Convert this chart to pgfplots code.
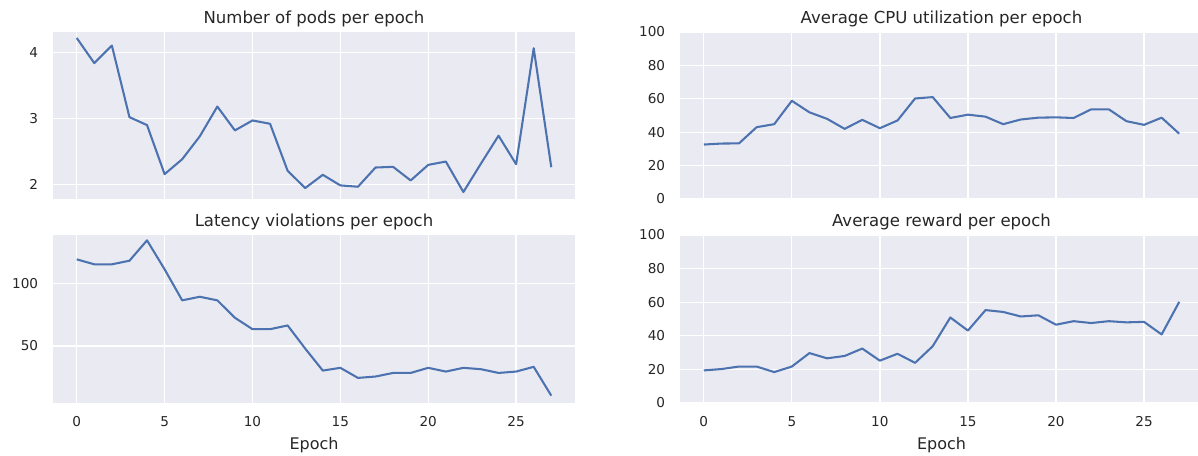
\documentclass[border=0pt]{standalone}
\usepackage{fontspec}
\setmainfont{DejaVu Sans}
\usepackage{pgfplots}
\usepackage{pgfplotstable}
\pgfplotsset{compat=1.18}
\definecolor{bg}{HTML}{EAEAF2}
\definecolor{sbblue}{HTML}{4C72B0}
\definecolor{txt}{HTML}{262626}

\pgfplotstableread{
epoch pods cpu lat rew
0  4.215 32.6 119.6 19.4
1  3.835 33.2 115.6 20.2
2  4.10  33.3 115.6 21.7
3  3.02  43.0 118.5 21.7
4  2.90  44.8 134.9 18.4
5  2.16  58.8 111.6 21.7
6  2.385 51.9 86.6  29.7
7  2.73  48.0 89.5  26.6
8  3.18  42.0 86.6  28.0
9  2.82  47.4 72.6  32.4
10 2.97  42.4 63.4  25.2
11 2.92  47.0 63.4  29.3
12 2.21  60.2 66.4  23.9
13 1.95  61.0 47.8  33.8
14 2.15  48.5 30.1  50.9
15 1.99  50.5 32.3  43.1
16 1.97  49.3 24.2  55.3
17 2.26  44.8 25.3  54.2
18 2.27  47.6 28.2  51.5
19 2.065 48.7 28.2  52.2
20 2.30  48.9 32.3  46.6
21 2.35  48.5 29.3  48.7
22 1.89  53.7 32.3  47.6
23 2.32  53.7 31.2  48.7
24 2.74  46.6 28.2  48.0
25 2.31  44.4 29.3  48.3
26 4.06  48.7 33.1  40.8
27 2.265 39.1 9.9   60.2
}\datatable

\pgfplotsset{
  every axis title/.style={font=\fontsize{12.4}{14}\selectfont, text=txt, at={(0.5,1)}, anchor=base, yshift=6.2pt, inner sep=0pt},
  sbstyle/.style={
    scale only axis,
    width=391.5pt,
    axis background/.style={fill=bg},
    axis line style={draw=none},
    major tick length=0pt,
    grid=major,
    major grid style={white, line width=1pt},
    xmin=-1.35, xmax=28.35,
    xtick={0,5,...,25},
    /pgf/number format/assume math mode=true,
    tick label style={font=\fontsize{10.2}{12}\selectfont, text=txt},
    yticklabel style={inner sep=0pt, xshift=-11pt},
    xticklabel style={inner sep=0pt, yshift=-9.75pt},
    xlabel style={font=\fontsize{12}{14}\selectfont, text=txt, at={(axis description cs:0.5,0)}, anchor=north, yshift=-25.5pt, inner sep=0pt},
  },
  sbline/.style={sbblue, line width=1.55pt, mark=none, line join=round},
}

\begin{document}
\begin{tikzpicture}
\useasboundingbox (0,0) rectangle (898.5pt,342pt);
\clip (0,0) rectangle (898.5pt,342pt);

% top-left
\begin{axis}[sbstyle, at={(39.75pt,192.75pt)}, anchor=south west,
  height=125.25pt, ymin=1.785, ymax=4.305, ytick={2,3,4},
  xticklabels={}, title={Number of pods per epoch}]
\addplot[sbline] table[x=epoch, y=pods] {\datatable};
\end{axis}

% top-right
\begin{axis}[sbstyle, at={(510pt,192.75pt)}, anchor=south west,
  width=392.25pt, height=125.25pt, ymin=0, ymax=100, ytick={0,20,...,100},
  xticklabels={}, title={Average CPU utilization per epoch}]
\addplot[sbline] table[x=epoch, y=cpu] {\datatable};
\end{axis}

% bottom-left
\begin{axis}[sbstyle, at={(39.75pt,39.75pt)}, anchor=south west,
  height=126pt, ymin=4, ymax=139.2, ytick={50,100},
  xlabel={Epoch}, title={Latency violations per epoch}]
\addplot[sbline] table[x=epoch, y=lat] {\datatable};
\end{axis}

% bottom-right
\begin{axis}[sbstyle, at={(510pt,39.75pt)}, anchor=south west,
  width=392.25pt, height=126pt, ymin=0, ymax=100, ytick={0,20,...,100},
  xlabel={Epoch}, title={Average reward per epoch}]
\addplot[sbline] table[x=epoch, y=rew] {\datatable};
\end{axis}
\end{tikzpicture}
\end{document}
